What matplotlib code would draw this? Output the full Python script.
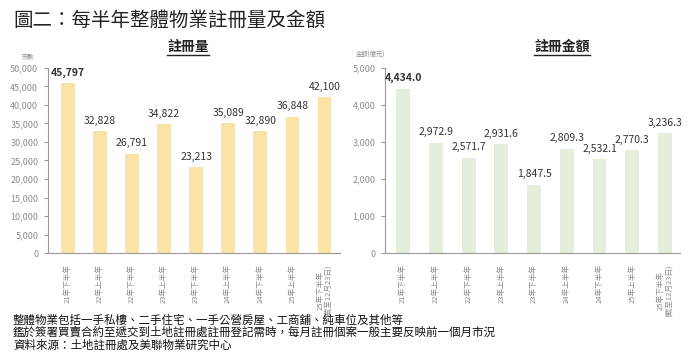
import numpy as np
import matplotlib.pyplot as plt
from matplotlib.lines import Line2D

plt.rcParams['font.family'] = ['Noto Sans CJK TC', 'DejaVu Sans']

#data
periods = ["21年下半年", "22年上半年", "22年下半年", "23年上半年", "23年下半年",
           "24年上半年", "24年下半年", "25年上半年", "25年下半年\n(截至12月23日)"]
reg_count = [45797, 32828, 26791, 34822, 23213, 35089, 32890, 36848, 42100]
reg_amount = [4434.0, 2972.9, 2571.7, 2931.6, 1847.5, 2809.3, 2532.1, 2770.3, 3236.3]

notes = ["整體物業包括一手私樓、二手住宅、一手公營房屋、工商舖、純車位及其他等",
         "鑑於簽署買賣合約至遞交到土地註冊處註冊登記需時，每月註冊個案一般主要反映前一個月市況",
         "資料來源：土地註冊處及美聯物業研究中心"]

fig = plt.figure(figsize=(6.99, 3.59), dpi=100)
ax1 = fig.add_axes([0.0687, 0.295, 0.4173, 0.516])
ax2 = fig.add_axes([0.551, 0.295, 0.422, 0.516])

gray = "#8c8c8c"
x = np.arange(len(periods))


def style_axis(ax, xlim, ymax, step, fmt):
    ax.set_xlim(*xlim)
    ax.set_ylim(0, ymax)
    ax.set_yticks(np.arange(0, ymax + 1, step))
    ax.set_yticklabels([fmt(v) for v in np.arange(0, ymax + 1, step)], fontsize=6.5, color=gray)
    ax.set_xticks(x)
    ax.set_xticklabels(periods, rotation=90, fontsize=5.5, color=gray, linespacing=1.0)
    for s in ["top", "right"]:
        ax.spines[s].set_visible(False)
    ax.spines["left"].set_color("#999999")
    ax.spines["bottom"].set_color("#999999")
    ax.tick_params(axis="y", length=3, color="#999999", pad=4)
    ax.tick_params(axis="x", length=0, pad=8)


#left chart: count
ax1.bar(x, reg_count, width=0.42, color="#f9e3a5")
style_axis(ax1, (-0.62, 8.48), 50000, 5000, lambda v: f"{int(v):,}")
for xi, v in zip(x, reg_count):
    ax1.text(xi, v + 1500, f"{v:,}", ha="center", va="bottom", fontsize=7.5,
             color="#333333", fontweight="bold" if xi == 0 else "normal")

#right chart: amount
ax2.bar(x, reg_amount, width=0.42, color="#e5eedb")
style_axis(ax2, (-0.55, 8.46), 5000, 1000, lambda v: f"{int(v):,}")
for xi, v in zip(x, reg_amount):
    ax2.text(xi, v + 150, f"{v:,.1f}", ha="center", va="bottom", fontsize=7.5,
             color="#333333", fontweight="bold" if xi == 0 else "normal")

#axis unit labels
fig.text(28 / 699, 1 - 57 / 359, "宗數", fontsize=4.5, color=gray, ha="center", va="center")
fig.text(371 / 699, 1 - 55 / 359, "金額(億元)", fontsize=4.5, color=gray, ha="center", va="center")

#title and subtitles
fig.text(13 / 699, 1 - 20 / 359, "圖二：每半年整體物業註冊量及金額", fontsize=14,
         fontweight="medium", color="#222222", ha="left", va="center")
subs = []
subs.append(fig.text(188 / 699, 1 - 47 / 359, "註冊量", fontsize=10, fontweight="bold",
                     color="#222222", ha="center", va="center"))
subs.append(fig.text(562 / 699, 1 - 47 / 359, "註冊金額", fontsize=10, fontweight="bold",
                     color="#222222", ha="center", va="center"))

#underline the subtitles
fig.canvas.draw()
r = fig.canvas.get_renderer()
for t in subs:
    bb = t.get_window_extent(r).transformed(fig.transFigure.inverted())
    fig.add_artist(Line2D([bb.x0, bb.x1], [bb.y0 - 0.004, bb.y0 - 0.004],
                          transform=fig.transFigure, color="#222222", lw=1))

#footnotes
for i, n in enumerate(notes):
    fig.text(13 / 699, 1 - (320 + 12.5 * i) / 359, n, fontsize=8.3, color="#111111",
             ha="left", va="center")

fig.savefig("out.png", dpi=100)
